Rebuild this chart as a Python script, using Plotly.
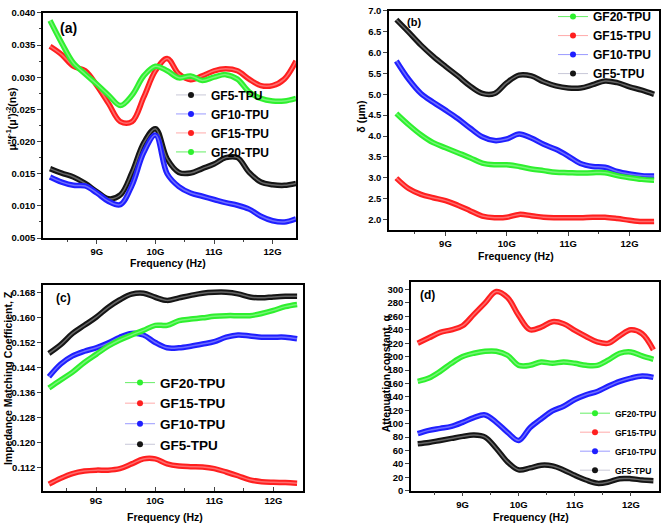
import plotly.graph_objects as go
from plotly.subplots import make_subplots

freq = [8.2, 8.4, 8.6, 8.8, 9.0, 9.2, 9.4, 9.6, 9.8, 10.0, 10.2, 10.4, 10.6, 10.8,
        11.0, 11.2, 11.4, 11.6, 11.8, 12.0, 12.2, 12.4]
series_names = ["GF5-TPU", "GF10-TPU", "GF15-TPU", "GF20-TPU"]

# (a) mu'' f^-1 (mu')^-2 (ns)
a_gf5 = [0.0158, 0.0151, 0.0145, 0.0135, 0.0122, 0.0111, 0.0117, 0.0152, 0.0198, 0.0220, 0.0173,
         0.0152, 0.0151, 0.0158, 0.0165, 0.0175, 0.0175, 0.0152, 0.0137, 0.0133, 0.0132, 0.0135]
a_gf10 = [0.0145, 0.0137, 0.0132, 0.0131, 0.0120, 0.0107, 0.0102, 0.0132, 0.0183, 0.0210, 0.0150,
          0.0130, 0.0120, 0.0115, 0.0110, 0.0105, 0.0101, 0.0095, 0.0084, 0.0077, 0.0075, 0.0080]
a_gf15 = [0.0348, 0.0335, 0.0317, 0.0310, 0.0287, 0.0259, 0.0231, 0.0231, 0.0269, 0.0310, 0.0329,
          0.0305, 0.0296, 0.0302, 0.0310, 0.0313, 0.0310, 0.0297, 0.0287, 0.0287, 0.0297, 0.0325]
a_gf20 = [0.0388, 0.0353, 0.0322, 0.0305, 0.0289, 0.0272, 0.0256, 0.0272, 0.0302, 0.0317, 0.0310,
          0.0299, 0.0302, 0.0295, 0.0300, 0.0304, 0.0297, 0.0277, 0.0267, 0.0263, 0.0263, 0.0267]

# (b) skin depth delta (um)
b_gf5 = [6.79, 6.49, 6.18, 5.91, 5.67, 5.44, 5.20, 5.02, 5.02, 5.28, 5.46,
         5.44, 5.30, 5.20, 5.15, 5.15, 5.23, 5.32, 5.28, 5.18, 5.10, 5.00]
b_gf10 = [5.80, 5.36, 5.02, 4.81, 4.62, 4.42, 4.19, 3.98, 3.89, 3.93, 4.05,
          3.95, 3.80, 3.68, 3.52, 3.34, 3.27, 3.25, 3.15, 3.09, 3.05, 3.04]
b_gf15 = [2.99, 2.74, 2.60, 2.52, 2.45, 2.34, 2.21, 2.08, 2.04, 2.05, 2.12,
          2.09, 2.05, 2.04, 2.04, 2.04, 2.05, 2.05, 2.02, 1.98, 1.95, 1.95]
b_gf20 = [4.54, 4.27, 4.03, 3.84, 3.72, 3.60, 3.48, 3.35, 3.31, 3.31, 3.27,
          3.21, 3.17, 3.13, 3.12, 3.11, 3.12, 3.12, 3.05, 3.00, 2.96, 2.94]

# (c) impedance matching coefficient Z
c_gf5 = [0.1486, 0.1514, 0.1550, 0.1576, 0.1602, 0.1633, 0.1658, 0.1676, 0.1679, 0.1666, 0.1656,
         0.1664, 0.1672, 0.1679, 0.1682, 0.1682, 0.1677, 0.1667, 0.1664, 0.1667, 0.1669, 0.1669]
c_gf10 = [0.1411, 0.1452, 0.1478, 0.1493, 0.1504, 0.1519, 0.1538, 0.1550, 0.1545, 0.1521, 0.1504,
          0.1504, 0.1509, 0.1516, 0.1524, 0.1538, 0.1545, 0.1542, 0.1538, 0.1538, 0.1538, 0.1533]
c_gf15 = [0.1067, 0.1086, 0.1101, 0.1109, 0.1112, 0.1112, 0.1117, 0.1132, 0.1148, 0.1148, 0.1132,
          0.1125, 0.1123, 0.1122, 0.1117, 0.1106, 0.1094, 0.1081, 0.1075, 0.1073, 0.1072, 0.1070]
c_gf20 = [0.1375, 0.1401, 0.1426, 0.1457, 0.1483, 0.1509, 0.1529, 0.1545, 0.1560, 0.1576, 0.1576,
          0.1591, 0.1596, 0.1600, 0.1605, 0.1607, 0.1607, 0.1607, 0.1614, 0.1624, 0.1636, 0.1643]

# (d) attenuation constant alpha
d_gf5 = [70, 72, 75, 78, 81, 83, 80, 63, 43, 31, 34, 38, 37, 31, 23, 16, 11, 13, 18, 18, 16, 15]
d_gf10 = [85, 90, 93, 96, 102, 109, 113, 102, 87, 75, 94, 107, 119, 126, 136, 143, 148, 156, 163, 168, 171, 169]
d_gf15 = [220, 228, 236, 240, 246, 263, 280, 297, 288, 261, 240, 244, 252, 249, 239, 230, 222, 220, 231, 240, 234, 210]
d_gf20 = [163, 168, 178, 190, 200, 205, 208, 208, 202, 187, 187, 192, 190, 192, 190, 187, 187, 195, 205, 207, 201, 196]

x_tickvals = [9, 10, 11, 12]
x_ticktext = ["9G", "10G", "11G", "12G"]

colors = {"GF5-TPU": "#151515", "GF10-TPU": "#1f1fff", "GF15-TPU": "#ff1f1f", "GF20-TPU": "#2ef02e"}
legend_line = {"GF5-TPU": "#c8c8d8", "GF10-TPU": "#9a9aff", "GF15-TPU": "#ffaaaa", "GF20-TPU": "#66ee66"}

panels = [
    (1, 1, {"GF5-TPU": a_gf5, "GF10-TPU": a_gf10, "GF15-TPU": a_gf15, "GF20-TPU": a_gf20},
     ["GF5-TPU", "GF10-TPU", "GF15-TPU", "GF20-TPU"], "legend"),
    (1, 2, {"GF5-TPU": b_gf5, "GF10-TPU": b_gf10, "GF15-TPU": b_gf15, "GF20-TPU": b_gf20},
     ["GF20-TPU", "GF15-TPU", "GF10-TPU", "GF5-TPU"], "legend2"),
    (2, 1, {"GF5-TPU": c_gf5, "GF10-TPU": c_gf10, "GF15-TPU": c_gf15, "GF20-TPU": c_gf20},
     ["GF20-TPU", "GF15-TPU", "GF10-TPU", "GF5-TPU"], "legend3"),
    (2, 2, {"GF5-TPU": d_gf5, "GF10-TPU": d_gf10, "GF15-TPU": d_gf15, "GF20-TPU": d_gf20},
     ["GF20-TPU", "GF15-TPU", "GF10-TPU", "GF5-TPU"], "legend4"),
]

fig = make_subplots(rows=2, cols=2)

for r, c, data, order, leg in panels:
    for name in series_names:
        fig.add_trace(go.Scatter(x=freq, y=data[name], mode="lines",
                                 line=dict(color=colors[name], width=5.5, shape="spline", smoothing=1.0),
                                 showlegend=False, hoverinfo="skip"), row=r, col=c)
        fig.add_trace(go.Scatter(x=freq, y=data[name], mode="lines",
                                 line=dict(color="rgba(255,255,255,0.35)", width=1.5, shape="spline", smoothing=1.0),
                                 showlegend=False, hoverinfo="skip"), row=r, col=c)
    for name in order:
        fig.add_trace(go.Scatter(x=[None], y=[None], mode="lines+markers", name=name,
                                 line=dict(color=legend_line[name], width=1),
                                 marker=dict(color=colors[name], size=6),
                                 legend=leg), row=r, col=c)

W, H = 662, 530
def px_x(a, b):
    return [a / W, b / W]
def px_y(top, bottom):
    return [1 - bottom / H, 1 - top / H]

dom = {
    (1, 1): (px_x(43, 296), px_y(7, 237)),
    (1, 2): (px_x(389, 659), px_y(5, 229)),
    (2, 1): (px_x(43, 303), px_y(285, 495)),
    (2, 2): (px_x(411, 659), px_y(282, 495)),
}

axis_font = dict(family="Liberation Sans, Arial", size=9.5, color="black", weight="bold")
def common_x(tickdir):
    return dict(tickvals=x_tickvals, ticktext=x_ticktext, ticks=tickdir, ticklen=4, tickwidth=1.3,
                showline=True, linecolor="black", linewidth=1.5, mirror=True, showgrid=False,
                zeroline=False, tickfont=axis_font,
                minor=dict(ticks=tickdir, ticklen=2.5, tickwidth=1, tickvals=[8.5, 9.5, 10.5, 11.5]))
common_y = dict(ticks="outside", ticklen=4, tickwidth=1.3, showline=True, linecolor="black", linewidth=1.5,
                mirror=True, showgrid=False, zeroline=False, tickfont=axis_font)

xranges = {(1, 1): [8.08, 12.4], (1, 2): [8.08, 12.48], (2, 1): [8.1, 12.5], (2, 2): [8.08, 12.5]}
xtickdir = {(1, 1): "outside", (1, 2): "outside", (2, 1): "inside", (2, 2): "outside"}
ycfg = {
    (1, 1): dict(range=[0.005, 0.040], dtick=0.005, tick0=0.005, tickformat=".3f",
                 minor=dict(ticks="outside", ticklen=2.5, tickwidth=1, dtick=0.0025)),
    (1, 2): dict(range=[1.74, 7.0], dtick=0.5, tick0=2.0, tickformat=".1f"),
    (2, 1): dict(range=[0.1046, 0.1705], dtick=0.008, tick0=0.112, tickformat=".3f"),
    (2, 2): dict(range=[0, 311], dtick=20, tick0=0),
}

for (r, c), (xd, yd) in dom.items():
    fig.update_xaxes(domain=xd, range=xranges[(r, c)], **common_x(xtickdir[(r, c)]), row=r, col=c)
    fig.update_yaxes(domain=yd, **common_y, **ycfg[(r, c)], row=r, col=c)

title_font = dict(family="Liberation Sans, Arial", size=10.5, color="black", weight="bold")
ann = []
def add_text(text, x, y, font, angle=0):
    ann.append(dict(text=text, x=x / W, y=1 - y / H, xref="paper", yref="paper",
                    showarrow=False, font=font, textangle=angle, xanchor="center", yanchor="middle"))

for cx, cy in [(168, 262), (516, 255), (165, 522), (531, 522)]:
    add_text("Frequency (Hz)", cx, cy, title_font)
add_text("μ''f<sup>-1</sup>(μ')<sup>-2</sup>(ns)", 11, 116, title_font, -90)
add_text("δ (μm)", 361, 113, title_font, -90)
add_text("Impedance Matching Coefficient, Z", 8, 380, title_font, -90)
add_text("Attenuation constant, α", 386, 375, title_font, -90)

lab = lambda s: dict(family="Liberation Sans, Arial", size=s, color="black", weight="bold")
add_text("(a)", 68, 22, lab(14))
add_text("(b)", 414, 16, lab(11))
add_text("(c)", 63, 298, lab(12))
add_text("(d)", 427, 295, lab(12))

def leg(x, y, size):
    return dict(x=x / W, y=1 - y / H, xanchor="left", yanchor="top", bgcolor="rgba(0,0,0,0)",
                borderwidth=0, itemwidth=30, tracegroupgap=0,
                font=dict(family="Liberation Sans, Arial", size=size, color="black", weight="bold"))

fig.update_layout(
    width=W, height=H, margin=dict(l=0, r=0, t=0, b=0),
    paper_bgcolor="white", plot_bgcolor="white",
    annotations=ann,
    legend=leg(171, 76, 12),
    legend2=leg(553, -4, 12),
    legend3=leg(120, 369, 13.5),
    legend4=leg(575, 401, 8.5),
)

fig.write_html("out.html")
